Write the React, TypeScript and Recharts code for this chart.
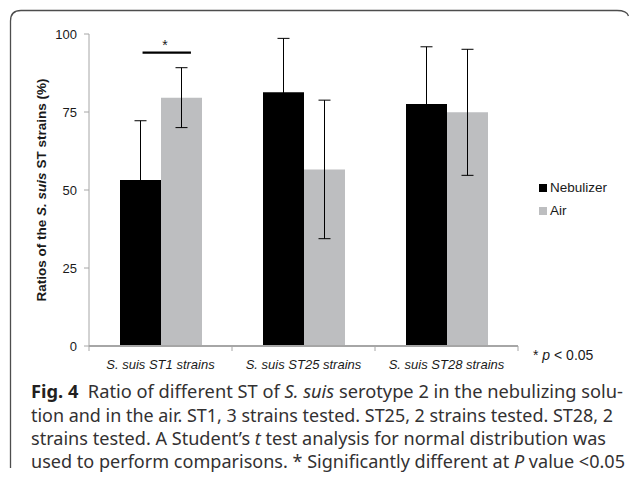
import React from 'react';
import { ComposedChart, Bar, XAxis, YAxis, ErrorBar, Legend, LabelList } from 'recharts';

const categories = ['S. suis ST1 strains', 'S. suis ST25 strains', 'S. suis ST28 strains'];
const nebulizer = [53.2, 81.3, 77.6];
const nebulizerErr = [19.0, 17.3, 18.3];
const air = [79.6, 56.6, 74.9];
const airErr = [9.6, 22.2, 20.2];
const sigLevel = [94, null, null];
const yTicks = [0, 25, 50, 75, 100];
const seriesOrder = ['Nebulizer', 'Air'];

const data = categories.map((c, i) => ({
  name: c,
  Nebulizer: nebulizer[i],
  nebErr: nebulizerErr[i],
  Air: air[i],
  airErr: airErr[i],
  sig: sigLevel[i],
}));

const FONT = '"Liberation Sans", Arial, sans-serif';
const CAP_FONT = '"Noto Sans", "Open Sans", sans-serif';
const COLORS: Record<string, string> = { Nebulizer: '#000000', Air: '#bdbec0' };

const XTick = (props: any) => {
  const { x, y, payload, index } = props;
  const off = payload && payload.offset ? payload.offset : 71.5;
  return (
    <g>
      <line x1={x - off} x2={x - off} y1={y - 8} y2={y - 3} stroke="#a6a6a6" strokeWidth={1} />
      {index === categories.length - 1 && (
        <line x1={x + off} x2={x + off} y1={y - 8} y2={y - 3} stroke="#a6a6a6" strokeWidth={1} />
      )}
      <text x={x} y={y + 15} textAnchor="middle" fontFamily={FONT} fontSize={13} fontStyle="italic" fill="#1a1a1a">
        {String(payload.value)}
      </text>
    </g>
  );
};

const YLabel = () => {
  const cx = 41;
  const cy = 190;
  return (
    <text
      x={cx}
      y={cy}
      transform={`rotate(-90, ${cx}, ${cy})`}
      textAnchor="middle"
      dominantBaseline="central"
      fontFamily={FONT}
      fontSize={13.5}
      fontWeight="bold"
      fill="#1a1a1a"
    >
      <tspan>Ratios of the </tspan>
      <tspan fontStyle="italic">S. suis</tspan>
      <tspan> ST strains (%)</tspan>
    </text>
  );
};

const PNote = () => (
  <text x={533} y={360} fontFamily={FONT} fontSize={14} fill="#1a1a1a">
    <tspan>* </tspan>
    <tspan fontStyle="italic">p</tspan>
    <tspan> &lt; 0.05</tspan>
  </text>
);

const SigMark = (props: any) => {
  const { x, y, width, height, index } = props;
  if (index !== 0) return null;
  const v = data[index].Air;
  const sig = data[index].sig as number;
  const ppu = height / v;
  const ySig = y + height - sig * ppu;
  return (
    <g>
      <line x1={x - width * 0.45} x2={x + width * 0.73} y1={ySig} y2={ySig} stroke="#000" strokeWidth={2.2} />
      <text x={x + width * 0.1} y={ySig - 3} textAnchor="middle" fontFamily={FONT} fontSize={14} fill="#1a1a1a">*</text>
    </g>
  );
};

const LegendContent = (props: any) => {
  const payload = props.payload && props.payload.length ? props.payload : [];
  const list = seriesOrder.map((name) => {
    const p = payload.find((q: any) => q.value === name || q.dataKey === name);
    return { label: name, color: p && p.color ? p.color : COLORS[name] };
  });
  return (
    <div style={{ fontFamily: FONT, fontSize: 13.5, color: '#1a1a1a', lineHeight: '23px' }}>
      {list.map((it: any) => (
        <div key={it.label} style={{ display: 'flex', alignItems: 'center', height: 23 }}>
          <span style={{ display: 'inline-block', width: 8, height: 8, background: it.color, marginRight: 3 }} />
          <span>{it.label}</span>
        </div>
      ))}
    </div>
  );
};

export default function App() {
  return (
    <div style={{ position: 'absolute', left: 0, top: 0, width: 629, height: 490, background: '#fff' }}>
      <svg width={629} height={490} style={{ position: 'absolute', left: 0, top: 0 }}>
        <path d="M 10.5 468 L 10.5 21 Q 10.5 10.5 21 10.5 L 617 10.5 Q 627 10.5 628.5 16" fill="none" stroke="#4d4d4d" strokeWidth={1.3} />
        <g fontFamily={CAP_FONT} fontSize={18} fill="#333132">
          <text x={31} y={398} textLength={592} lengthAdjust="spacingAndGlyphs">
            <tspan fontWeight="bold" fill="#231f20">Fig. 4</tspan>
            <tspan>{'\u00a0\u00a0Ratio of different ST of '}</tspan>
            <tspan fontStyle="italic">S. suis</tspan>
            <tspan> serotype 2 in the nebulizing solu-</tspan>
          </text>
          <text x={31} y={422} textLength={582} lengthAdjust="spacingAndGlyphs">
            tion and in the air. ST1, 3 strains tested. ST25, 2 strains tested. ST28, 2
          </text>
          <text x={31} y={445} textLength={575} lengthAdjust="spacingAndGlyphs">
            <tspan>strains tested. A Student’s </tspan>
            <tspan fontStyle="italic">t</tspan>
            <tspan> test analysis for normal distribution was</tspan>
          </text>
          <text x={31} y={468} textLength={594} lengthAdjust="spacingAndGlyphs">
            <tspan>used to perform comparisons. * Significantly different at </tspan>
            <tspan fontStyle="italic">P</tspan>
            <tspan> value &lt;0.05</tspan>
          </text>
        </g>
      </svg>
      <div style={{ position: 'absolute', left: 0, top: 0 }}>
        <ComposedChart
          width={629}
          height={490}
          data={data}
          margin={{ top: 34, right: 111, bottom: 0, left: 0 }}
          barCategoryGap={31}
          barGap={0}
        >
          <XAxis
            dataKey="name"
            height={144}
            axisLine={{ stroke: '#a6a6a6', strokeWidth: 2 }}
            tickLine={false}
            tick={<XTick />}
            interval={0}
            label={<PNote />}
          />
          <YAxis
            width={89}
            domain={[0, 100]}
            ticks={yTicks}
            interval={0}
            axisLine={{ stroke: '#a6a6a6', strokeWidth: 1 }}
            tickLine={{ stroke: '#a6a6a6' }}
            tickSize={5}
            tickMargin={7}
            tick={{ fontFamily: FONT, fontSize: 13, fill: '#1a1a1a' }}
            label={<YLabel />}
          />
          <Legend
            layout="vertical"
            align="center"
            verticalAlign="middle"
            wrapperStyle={{ left: 539, top: 176, width: 90 }}
            content={<LegendContent />}
          />
          <Bar dataKey="Nebulizer" fill={COLORS.Nebulizer} isAnimationActive={false}>
            <ErrorBar dataKey="nebErr" width={6} stroke="#000" strokeWidth={1} />
          </Bar>
          <Bar dataKey="Air" fill={COLORS.Air} isAnimationActive={false}>
            <ErrorBar dataKey="airErr" width={6} stroke="#000" strokeWidth={1} />
            <LabelList dataKey="Air" content={<SigMark />} />
          </Bar>
        </ComposedChart>
      </div>
    </div>
  );
}
